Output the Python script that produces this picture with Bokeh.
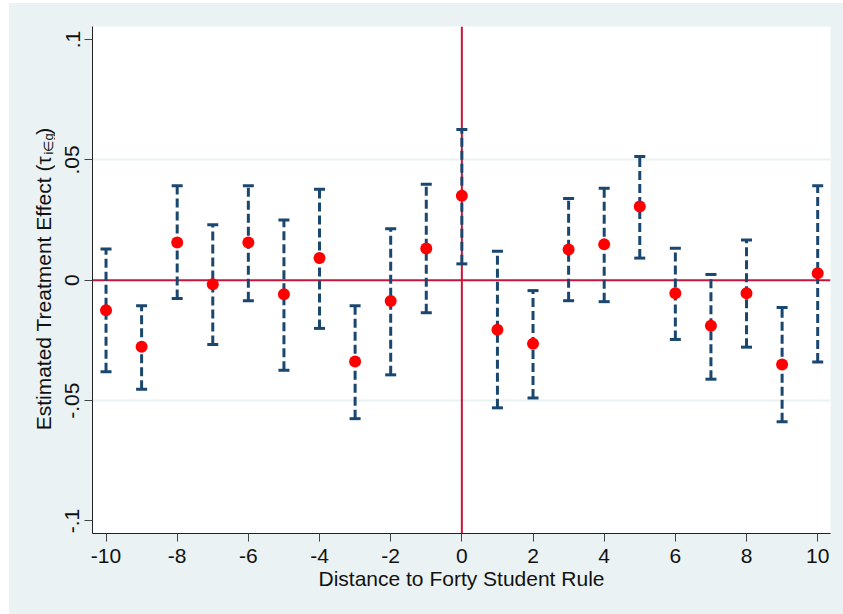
import math

from bokeh.plotting import figure
from bokeh.layouts import row
from bokeh.models import FixedTicker, Span, ColumnDataSource
from bokeh.core.properties import value
from bokeh.embed import file_html
from bokeh.resources import INLINE

# Estimated treatment effect by distance to the forty-student cutoff
distance = list(range(-10, 11))
estimate = [-0.0125, -0.0276, 0.0157, -0.0017, 0.0157, -0.0058, 0.0092, -0.0338,
            -0.0086, 0.0132, 0.0351, -0.0206, -0.0264, 0.0128, 0.0149, 0.0306,
            -0.0054, -0.0189, -0.0054, -0.0350, 0.0029]
ci_upper = [0.0130, -0.0106, 0.0392, 0.0230, 0.0392, 0.0250, 0.0378, -0.0106,
            0.0214, 0.0399, 0.0626, 0.0120, -0.0043, 0.0340, 0.0382, 0.0514,
            0.0133, 0.0024, 0.0167, -0.0113, 0.0392]
ci_lower = [-0.0380, -0.0453, -0.0076, -0.0267, -0.0085, -0.0374, -0.0200, -0.0575,
            -0.0393, -0.0135, 0.0068, -0.0530, -0.0489, -0.0085, -0.0089, 0.0092,
            -0.0246, -0.0411, -0.0278, -0.0588, -0.0340]

x_ticks = list(range(-10, 11, 2))
x_tick_labels = {t: str(t) for t in x_ticks}
y_ticks = [-0.1, -0.05, 0, 0.05, 0.1]
y_tick_labels = {-0.1: "-.1", -0.05: "-.05", 0: "0", 0.05: ".05", 0.1: ".1"}

X_RANGE = (-10.38, 10.36)
Y_RANGE = (-0.1052, 0.1054)

GRAPH_BG = "#EAF2F3"
NAVY = "#1A476F"
REF_RED = "#C8143C"
TEXT = "#111111"
FONT = "Liberation Sans"

H = 611
TITLE_W = 46
W = 834 - TITLE_W
B_LEFT, B_TOP, B_RIGHT, B_BOTTOM = 37, 23, 13, 81
FRAME_H = H - B_TOP - B_BOTTOM

p = figure(width=W, height=H, x_range=X_RANGE, y_range=Y_RANGE,
           output_backend="svg", toolbar_location=None,
           min_border_left=B_LEFT, min_border_top=B_TOP,
           min_border_right=B_RIGHT, min_border_bottom=B_BOTTOM)
p.border_fill_color = GRAPH_BG
p.background_fill_color = "white"
p.outline_line_color = None

# axes
for ax in (p.xaxis, p.yaxis):
    ax.axis_line_color = "#222222"
    ax.axis_line_width = 1
    ax.major_tick_line_color = "#444444"
    ax.major_tick_out = 8
    ax.major_tick_in = 0
    ax.minor_tick_line_color = None
    ax.major_label_text_font = FONT
    ax.major_label_text_font_size = "21px"
    ax.major_label_text_color = TEXT

p.xaxis.ticker = FixedTicker(ticks=x_ticks)
p.xaxis.major_label_overrides = x_tick_labels
p.xaxis.major_label_standoff = 7
p.xaxis.axis_label = "Distance to Forty Student Rule"
p.xaxis.axis_label_text_font = FONT
p.xaxis.axis_label_text_font_size = "21px"
p.xaxis.axis_label_text_font_style = "normal"
p.xaxis.axis_label_text_color = TEXT
p.xaxis.axis_label_standoff = 1

p.yaxis.ticker = FixedTicker(ticks=y_ticks)
p.yaxis.major_label_overrides = y_tick_labels
p.yaxis.major_label_orientation = "vertical"
p.yaxis.major_label_standoff = 5

# grid
p.xgrid.visible = False
p.ygrid.ticker = FixedTicker(ticks=[-0.05, 0.05])
p.ygrid.grid_line_color = GRAPH_BG
p.ygrid.grid_line_width = 2

# reference lines at zero
p.add_layout(Span(location=0, dimension="width", line_color=REF_RED,
                  line_width=2, level="underlay"))
p.add_layout(Span(location=0, dimension="height", line_color=REF_RED,
                  line_width=2, level="underlay"))

src = ColumnDataSource(dict(x=distance, est=estimate, lo=ci_lower, hi=ci_upper))

# dashed confidence intervals with caps
p.segment(x0="x", y0="lo", x1="x", y1="hi", source=src, line_color=NAVY,
          line_width=3, line_dash="9 4")
p.scatter(x="x", y="hi", source=src, marker="dash", size=11,
          line_color=NAVY, line_width=3)
p.scatter(x="x", y="lo", source=src, marker="dash", size=11,
          line_color=NAVY, line_width=3)

# point estimates
p.scatter(x="x", y="est", source=src, marker="circle", size=12,
          fill_color="#FF0000", line_color="#FF0000", line_width=0)

# y-axis title (with subscript) drawn in a narrow strip left of the plot.
# The strip's frame is aligned with the plot frame by the row layout, so its
# ranges give one data unit per pixel over the frame height.
t = figure(width=TITLE_W, height=H, x_range=(0, TITLE_W), y_range=(0, FRAME_H),
           output_backend="svg", toolbar_location=None,
           x_axis_type=None, y_axis_type=None,
           min_border_left=0, min_border_right=0,
           min_border_top=0, min_border_bottom=0)
t.border_fill_color = GRAPH_BG
t.background_fill_color = GRAPH_BG
t.outline_line_color = None
t.grid.visible = False

ASCENT, DESCENT = 0.905, 0.212
main_text = "Estimated Treatment Effect (\u03c4"
sub_text = "i\u2208g"
close_text = ")"
main_size, sub_size = 21, 13
main_len = (12.727 + 0.36) * main_size
sub_len = 1.45 * sub_size
total = main_len + sub_len + 0.333 * main_size
start = FRAME_H / 2 - total / 2

main_base, sub_base = 41, 43.3        # baselines, strip pixels from its left


def mid(base, size):
    return base - (ASCENT - DESCENT) / 2 * size


title_parts = [
    (main_text, main_size, mid(main_base, main_size), start),
    (sub_text, sub_size, mid(sub_base, sub_size), start + main_len + 1),
    (close_text, main_size, mid(main_base, main_size), start + main_len + sub_len + 2),
]
for txt, size, xm, y0 in title_parts:
    t.text(x=[xm], y=[y0], text=[txt], angle=math.pi / 2,
           text_align="left", text_baseline="middle",
           text_font=value(FONT), text_font_size=value(f"{size}px"),
           text_color=TEXT)

layout = row(t, p, spacing=0)
layout.margin = (3, 0, 0, 9)
layout.styles = {"background-color": GRAPH_BG}

open("out.html", "w").write(file_html(layout, INLINE))
